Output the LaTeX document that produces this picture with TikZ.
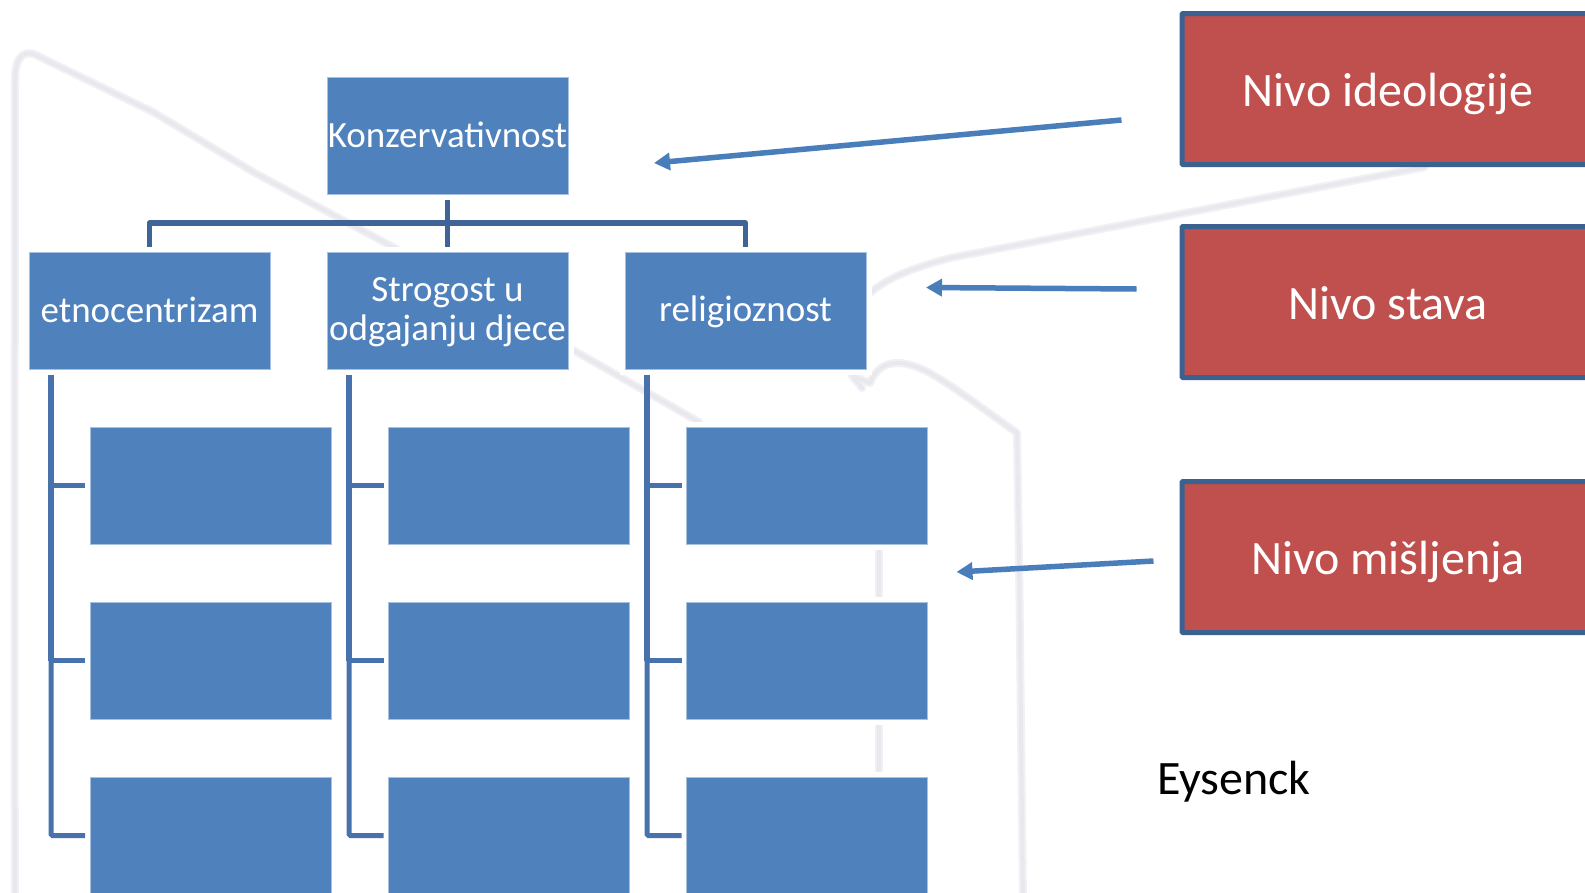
\documentclass[tikz,border=0pt]{standalone}
\usepackage{fontspec}
\setmainfont{Carlito}
\usetikzlibrary{arrows.meta}
\definecolor{boxblue}{HTML}{4F81BD}
\definecolor{boxedge}{HTML}{A9C1E0}
\definecolor{redfill}{HTML}{C0504D}
\definecolor{rededge}{HTML}{3B6191}
\definecolor{trunk}{HTML}{3F6597}
\definecolor{rail}{HTML}{4872AB}
\definecolor{arrowblue}{HTML}{4A7EBB}
\definecolor{ghost}{HTML}{F1F1F5}
\definecolor{ghostcore}{HTML}{E8E8EE}
\newcommand{\onestrut}{\rule[-5pt]{0pt}{34pt}}
\newcommand{\twostrut}{\rule[-5pt]{0pt}{32pt}}
\tikzset{
  bluebox/.style={draw=boxedge,line width=0.6pt,fill=boxblue,text=white,inner sep=0pt,outer sep=0pt,
    minimum width=241pt,minimum height=117pt,align=center,
    font=\fontsize{37}{39.5}\selectfont,
    preaction={draw=white,line width=11pt}},
  redbox/.style={draw=rededge,line width=5pt,fill=redfill,text=white,inner sep=0pt,outer sep=0pt,
    rounded corners=1pt,minimum width=412pt,minimum height=151pt,
    text height=40pt,text depth=6pt,
    font=\fontsize{48}{50}\selectfont},
  plaintext/.style={inner sep=0pt,outer sep=0pt,text=black,font=\fontsize{48}{50}\selectfont},
  busline/.style={draw=trunk,line width=5.5pt,line join=round},
  railup/.style={draw=rail,line width=6pt},
  raildown/.style={draw=rail,line width=5pt,rounded corners=1.5pt},
  twig/.style={draw=rail,line width=5.5pt},
  levelarrow/.style={draw=arrowblue,line width=5.5pt,-{Triangle[length=16pt,width=17pt]}},
  ghostline/.style={draw=ghost,line width=8pt,line cap=round,line join=round,
    postaction={draw=ghostcore,line width=4pt}},
}
\begin{document}
\begin{tikzpicture}[x=1pt,y=-1pt]
\clip (0,0) rectangle (1585,892);
\fill[white] (0,0) rectangle (1585,892);
% faint background strokes
\draw[ghostline] (15,900) .. controls (14,600) and (15,300) .. (15,80)
   .. controls (15,55) and (25,48) .. (40,57) -- (153,112) -- (255,173) -- (393,247) -- (699,422);
\draw[ghostline] (870,293) .. controls (885,280) and (905,270) .. (950,258)
   -- (1425,167);
\draw[ghostline] (862,388) .. controls (858,382) and (855,380) .. (852,376)
   -- (870,383) .. controls (875,370) and (885,362) .. (900,363)
   .. controls (925,365) and (950,385) .. (1017,433)
   .. controls (1020,600) and (1021,750) .. (1023,900);
\draw[ghostline,line cap=butt] (878.5,500) -- (878.5,800);
% nodes
\node[bluebox] (konz) at (447.5,135.5) {\onestrut Konzervativnost};
\node[bluebox] (etno) at (149.5,310.5) {\onestrut etnocentrizam};
\node[bluebox] (stro) at (447.5,310.5) {\twostrut Strogost u\\odgajanju djece\rule[-5pt]{0pt}{1pt}};
\node[bluebox] (reli) at (745.5,310.5) {\onestrut religioznost};
\foreach \c/\xx in {a/210.5,b/509,c/807}{
  \node[bluebox] (\c1) at (\xx,485.5) {};
  \node[bluebox] (\c2) at (\xx,660.5) {};
  \node[bluebox] (\c3) at (\xx,835.5) {};
}
\node[redbox] (ideo) at (1388,89) {Nivo ideologije};
\node[redbox] (stav) at (1388,302) {Nivo stava};
\node[redbox] (misl) at (1388,557) {Nivo mišljenja};
\node[plaintext,anchor=base west] (eys) at (1157,794) {Eysenck};
% tree connectors
\coordinate (bus) at (447.5,223);
\draw[busline,shorten <=6pt,shorten >=5pt] (konz.south) -- (stro.north);
\draw[busline,shorten <=5pt] (etno.north) |- (bus);
\draw[busline,shorten <=5pt] (reli.north) |- (bus);
\foreach \c/\p/\rx in {a/etno/51,b/stro/349,c/reli/647}{
  \coordinate (top\c) at (\rx,369);
  \draw[railup,shorten <=6pt] (top\c) -- (top\c |- \c2.west);
  \draw[raildown,shorten >=5pt] (top\c |- \c2.west) |- (\c3.west);
  \draw[twig,shorten >=5pt] (top\c |- \c1.west) -- (\c1.west);
  \draw[twig,shorten >=5pt] (top\c |- \c2.west) -- (\c2.west);
}
% level arrows
\coordinate (i0) at (1121.5,120); \coordinate (i1) at (654,163);
\coordinate (s0) at (1136.5,289); \coordinate (s1) at (926,287.5);
\coordinate (m0) at (1153.5,561); \coordinate (m1) at (956.5,572);
\draw[levelarrow] (i0) -- (i1);
\draw[levelarrow] (s0) -- (s1);
\draw[levelarrow] (m0) -- (m1);
\end{tikzpicture}
\end{document}
